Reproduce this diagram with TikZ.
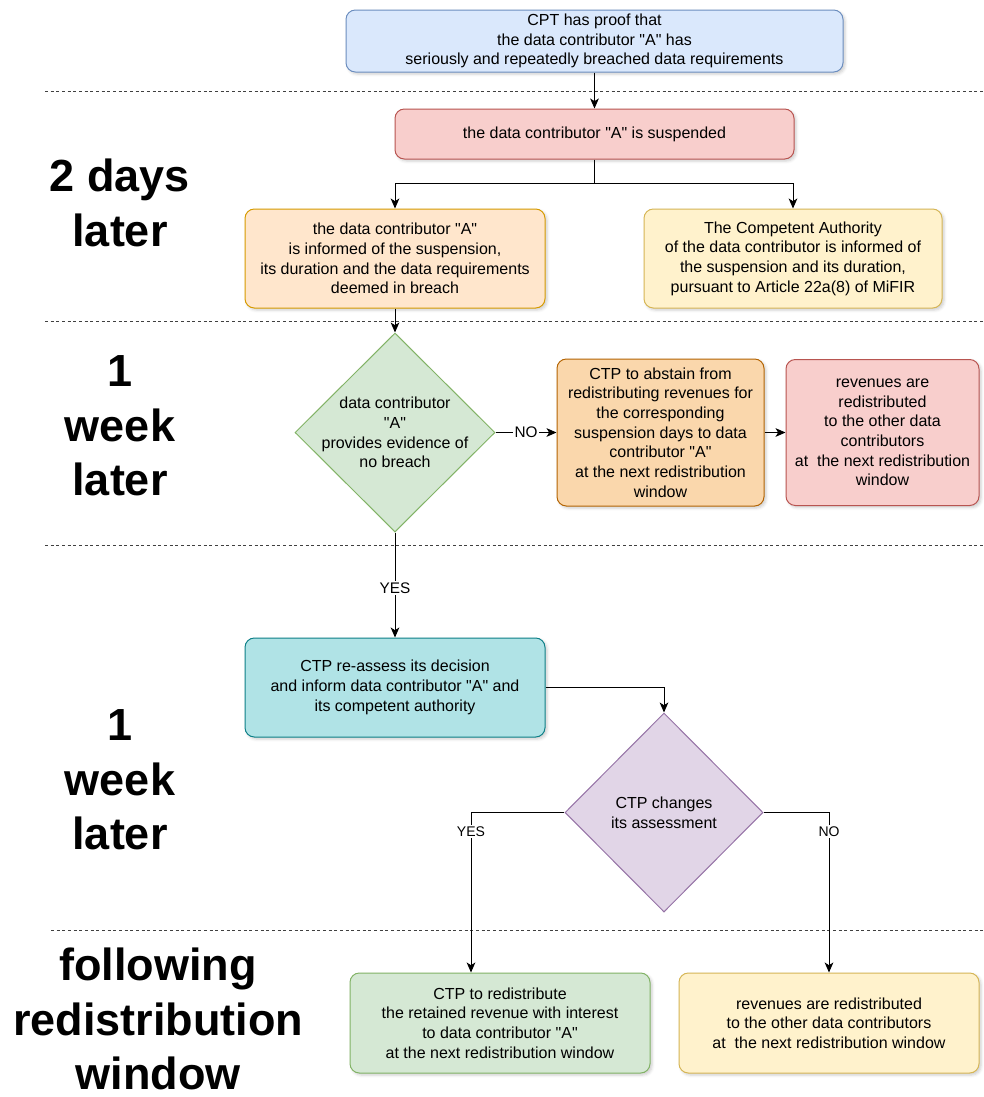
\documentclass[tikz,border=0pt]{standalone}
\usepackage{fontspec}
\setmainfont{Liberation Sans}
\usetikzlibrary{shapes.geometric}
\usetikzlibrary{shadows.blur}
\usetikzlibrary{arrows.meta}

\definecolor{blueFill}{HTML}{DAE8FC}
\definecolor{blueLine}{HTML}{6C8EBF}
\definecolor{redFill}{HTML}{F8CECC}
\definecolor{redLine}{HTML}{B85450}
\definecolor{orangeFill}{HTML}{FFE6CC}
\definecolor{orangeLine}{HTML}{D79B00}
\definecolor{yellowFill}{HTML}{FFF2CC}
\definecolor{yellowLine}{HTML}{D6B656}
\definecolor{greenFill}{HTML}{D5E8D4}
\definecolor{greenLine}{HTML}{82B366}
\definecolor{amberFill}{HTML}{FAD7AC}
\definecolor{amberLine}{HTML}{B46504}
\definecolor{tealFill}{HTML}{B0E3E6}
\definecolor{tealLine}{HTML}{0E8088}
\definecolor{purpleFill}{HTML}{E1D5E7}
\definecolor{purpleLine}{HTML}{9673A6}

\newcommand{\qA}{\textquotedbl A\textquotedbl}

\tikzset{
  stepbox/.style={draw, rounded corners=7pt, align=center, inner sep=0pt, line width=0.75pt,
    font=\fontsize{12}{14.75}\selectfont,
    blur shadow={shadow xshift=1.5pt, shadow yshift=-1.5pt, shadow opacity=20, shadow blur steps=4}},
  decision/.style={diamond, draw, aspect=1, align=center, inner sep=-10pt, line width=0.75pt,
    font=\fontsize{12}{14.75}\selectfont},
  period/.style={align=center, font=\fontsize{33.75}{40.9}\selectfont\bfseries},
  flow/.style={line width=0.75pt, -{Stealth[length=7.5pt,width=6.5pt,inset=2pt]}},
  link/.style={line width=0.75pt},
  edgelabel/.style={fill=white, inner sep=1pt, font=\fontsize{11.5}{13}\selectfont},
  smalllabel/.style={fill=white, inner sep=1pt, font=\fontsize{10.5}{12}\selectfont},
  separator/.style={black!75, line width=0.75pt, dash pattern=on 2.25pt off 2pt}
}

\begin{document}
\begin{tikzpicture}[x=0.75pt,y=0.75pt,yscale=-1,xscale=1]
  \useasboundingbox (0,0) rectangle (983,1097);

  % time bands
  \draw[separator] (45,91) -- (983,91);
  \draw[separator] (45,321) -- (983,321);
  \draw[separator] (45,545) -- (983,545);
  \draw[separator] (51,930) -- (983,930);

  \node[period] (days2) at (120,203) {2 days\\later};
  \node[period] (week1) at (120,426) {1\\week\\later};
  \node[period] (week2) at (120,780) {1\\week\\later};
  \node[period] (window) at (158,1019) {following\\redistribution\\window};

  % boxes
  \node[stepbox, fill=blueFill, draw=blueLine, minimum width=372.75pt, minimum height=46.5pt]
    (proof) at (594.5,41) {CPT has proof that\\the data contributor \qA{} has\\seriously and repeatedly breached data requirements};
  \node[stepbox, fill=redFill, draw=redLine, minimum width=299.25pt, minimum height=37.5pt]
    (suspend) at (594.5,134) {the data contributor \qA{} is suspended};
  \node[stepbox, fill=orangeFill, draw=orangeLine, minimum width=225pt, minimum height=74.25pt]
    (informA) at (395,258.5) {the data contributor \qA\\is informed of the suspension,\\its duration and the data requirements\\deemed in breach};
  \node[stepbox, fill=yellowFill, draw=yellowLine, minimum width=223.5pt, minimum height=74.25pt]
    (authority) at (793,258.5) {The Competent Authority\\of the data contributor is informed of\\the suspension and its duration,\\pursuant to Article 22a(8) of MiFIR};
  \node[decision, fill=greenFill, draw=greenLine, minimum width=150pt, minimum height=149.25pt]
    (evidence) at (395,432.5) {data contributor\\\qA\\provides evidence of\\no breach};
  \node[stepbox, fill=amberFill, draw=amberLine, minimum width=155.25pt, minimum height=110.25pt]
    (abstain) at (660.5,432.5) {CTP to abstain from\\redistributing revenues for\\the corresponding\\suspension days to data\\contributor \qA\\at the next redistribution\\window};
  \node[stepbox, fill=redFill, draw=redLine, minimum width=144.75pt, minimum height=109.5pt]
    (redistA) at (882.5,432.5) {revenues are\\redistributed\\to the other data\\contributors\\at\ \ the next redistribution\\window};
  \node[stepbox, fill=tealFill, draw=tealLine, minimum width=225pt, minimum height=74.25pt]
    (reassess) at (395,687.5) {CTP re-assess its decision\\and inform data contributor \qA{} and\\its competent authority};
  \node[decision, fill=purpleFill, draw=purpleLine, minimum width=148.5pt, minimum height=149.25pt]
    (changes) at (664,812.5) {CTP changes\\its assessment};
  \node[stepbox, fill=greenFill, draw=greenLine, minimum width=225pt, minimum height=75pt]
    (retained) at (500,1023) {CTP to redistribute\\the retained revenue with interest\\to data contributor \qA\\at the next redistribution window};
  \node[stepbox, fill=yellowFill, draw=yellowLine, minimum width=225pt, minimum height=75pt]
    (redistB) at (829,1023) {revenues are redistributed\\to the other data contributors\\at\ \ the next redistribution window};

  \coordinate (split) at (594.5,183);
  \coordinate (yesbend) at (471,812.5);

  % connectors
  \draw[flow] (proof) -- (suspend);
  \draw[link] (suspend) -- (split);
  \draw[flow] (split) -| (informA);
  \draw[flow] (split) -| (authority);
  \draw[flow] (informA) -- (evidence);
  \draw[flow] (evidence) -- node[edgelabel] {NO} (abstain);
  \draw[flow] (abstain) -- (redistA);
  \draw[flow] (evidence) -- node[edgelabel, pos=0.53] {YES} (reassess);
  \draw[flow] (reassess) -| (changes);
  \draw[link] (changes) -- (yesbend);
  \draw[flow] (yesbend) -- node[smalllabel, pos=0.12] {YES} (yesbend |- retained.north);
  \draw[flow] (changes) -| node[smalllabel, pos=0.56] {NO} (redistB);
\end{tikzpicture}
\end{document}
